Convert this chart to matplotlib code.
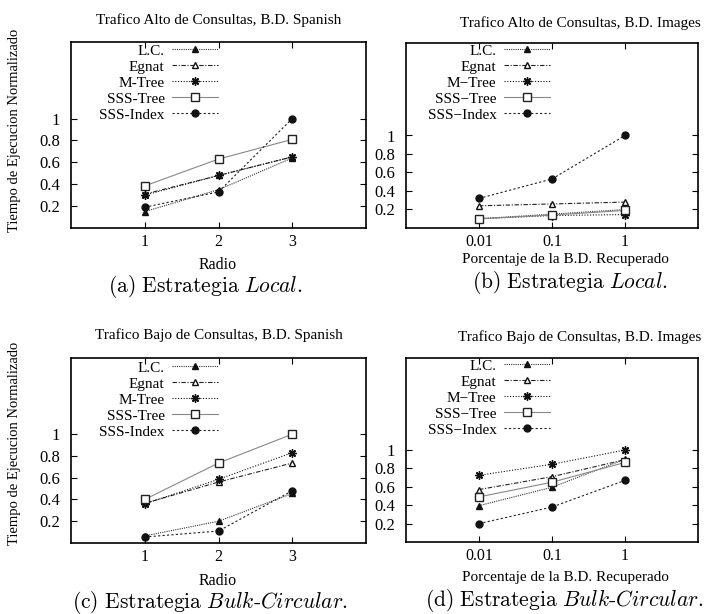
import matplotlib
matplotlib.use("Agg")
import matplotlib.pyplot as plt

plt.rcParams['font.family'] = ['Liberation Serif', 'DejaVu Serif']
plt.rcParams['mathtext.fontset'] = 'cm'

# eje x
radio = [1, 2, 3]
porcentaje = [0.01, 0.1, 1]

# (a) trafico alto, Spanish
a_lc = [0.15, 0.35, 0.64]
a_egnat = [0.31, 0.48, 0.65]
a_mtree = [0.30, 0.48, 0.65]
a_ssstree = [0.385, 0.63, 0.81]
a_sssindex = [0.19, 0.33, 1.0]

# (b) trafico alto, Images
b_lc = [0.10, 0.15, 0.20]
b_egnat = [0.24, 0.26, 0.28]
b_mtree = [0.10, 0.135, 0.145]
b_ssstree = [0.10, 0.14, 0.19]
b_sssindex = [0.32, 0.53, 1.0]

# (c) trafico bajo, Spanish
c_lc = [0.065, 0.20, 0.455]
c_egnat = [0.365, 0.56, 0.735]
c_mtree = [0.36, 0.585, 0.83]
c_ssstree = [0.40, 0.735, 1.0]
c_sssindex = [0.055, 0.11, 0.48]

# (d) trafico bajo, Images
d_lc = [0.395, 0.595, 0.90]
d_egnat = [0.57, 0.71, 0.895]
d_mtree = [0.725, 0.845, 1.0]
d_ssstree = [0.49, 0.65, 0.865]
d_sssindex = [0.20, 0.38, 0.67]

nombres_spanish = ['L.C.', 'Egnat', 'M-Tree', 'SSS-Tree', 'SSS-Index']
nombres_images = ['L.C.', 'Egnat', 'M\u2212Tree', 'SSS\u2212Tree', 'SSS\u2212Index']
yticks = [0.2, 0.4, 0.6, 0.8, 1]
ytick_labels = ['0.2', '0.4', '0.6', '0.8', '1']

estilos = [
    dict(ls=(0, (1, 1)), color='#333333', marker='^', ms=4, mfc='#111111', mec='#111111'),
    dict(ls=(0, (4, 1.5, 1, 1.5)), color='#222222', marker='^', ms=5, mfc='white', mec='#111111'),
    dict(ls=(0, (1, 1.5)), color='#111111', marker=(8, 2, 0), ms=6, mec='#111111'),
    dict(ls='-', color='#888888', marker='s', ms=5.5, mfc='white', mec='#222222'),
    dict(ls=(0, (2, 2)), color='#222222', marker='o', ms=5, mfc='#111111', mec='#111111'),
]

W, H = 705, 614
fig = plt.figure(figsize=(W / 100, H / 100), dpi=100)


def rect(l, t, r, b):
    return [l / W, 1 - b / H, (r - l) / W, (b - t) / H]


def fx(x):
    return x / W


def fy(y):
    return 1 - y / H


def panel(box, x, series, nombres, ylim, log, ley_xy):
    ax = fig.add_axes(rect(*box))
    for vals, nom, st in zip(series, nombres, estilos):
        ax.plot(x, vals, lw=0.8, label=nom, **st)
    if log:
        ax.set_xscale('log')
        ax.set_xlim(0.001, 10)
        ax.set_xticks(porcentaje)
        ax.set_xticklabels(['0.01', '0.1', '1'])
        ax.minorticks_off()
    else:
        ax.set_xlim(0, 4)
        ax.set_xticks(radio)
        ax.set_xticklabels(['1', '2', '3'])
    ax.set_ylim(0, ylim)
    ax.set_yticks(yticks)
    ax.set_yticklabels(ytick_labels)
    ax.tick_params(direction='in', top=True, right=True, length=4, width=0.8)
    ax.tick_params(axis='x', labelsize=11.5, pad=4)
    ax.tick_params(axis='y', labelsize=12, pad=8)
    for s in ax.spines.values():
        s.set_linewidth(1.2)
    ax.legend(loc='upper right', bbox_to_anchor=(fx(ley_xy[0]), fy(ley_xy[1])),
              bbox_transform=fig.transFigure, frameon=False, markerfirst=False,
              fontsize=11, handlelength=3.0, handletextpad=0.5,
              labelspacing=0.15, borderpad=0, borderaxespad=0)
    return ax


panel((71, 42, 366, 228), radio, [a_lc, a_egnat, a_mtree, a_ssstree, a_sssindex],
      nombres_spanish, 1.7, False, (218, 44))
panel((406, 43, 698, 228), porcentaje, [b_lc, b_egnat, b_mtree, b_ssstree, b_sssindex],
      nombres_images, 2.0, True, (550, 44))
panel((71, 358, 366, 543), radio, [c_lc, c_egnat, c_mtree, c_ssstree, c_sssindex],
      nombres_spanish, 1.7, False, (218, 361))
panel((406, 358, 698, 542), porcentaje, [d_lc, d_egnat, d_mtree, d_ssstree, d_sssindex],
      nombres_images, 2.0, True, (550, 359))

# titulos
fig.text(fx(219), fy(20), 'Trafico Alto de Consultas, B.D. Spanish', ha='center', va='center', fontsize=11)
fig.text(fx(580), fy(23), 'Trafico Alto de Consultas, B.D. Images', ha='center', va='center', fontsize=11)
fig.text(fx(219), fy(335), 'Trafico Bajo de Consultas, B.D. Spanish', ha='center', va='center', fontsize=11)
fig.text(fx(580), fy(337), 'Trafico Bajo de Consultas, B.D. Images', ha='center', va='center', fontsize=11)

# etiquetas de ejes
fig.text(fx(218), fy(265), 'Radio', ha='center', va='center', fontsize=11.5)
fig.text(fx(565), fy(259), 'Porcentaje de la B.D. Recuperado', ha='center', va='center', fontsize=11)
fig.text(fx(218), fy(581), 'Radio', ha='center', va='center', fontsize=11.5)
fig.text(fx(565), fy(577), 'Porcentaje de la B.D. Recuperado', ha='center', va='center', fontsize=11)
fig.text(fx(15), fy(130), 'Tiempo de Ejecucion Normalizado', rotation=90, ha='center', va='center', fontsize=10.5)
fig.text(fx(15), fy(443), 'Tiempo de Ejecucion Normalizado', rotation=90, ha='center', va='center', fontsize=10.5)

# subtitulos
fig.text(fx(205), fy(287), r'$\mathrm{(a)\ Estrategia\ }\mathit{Local}\mathrm{.}$', ha='center', va='center', fontsize=15.5)
fig.text(fx(570), fy(282), r'$\mathrm{(b)\ Estrategia\ }\mathit{Local}\mathrm{.}$', ha='center', va='center', fontsize=15.5)
fig.text(fx(348), fy(602), r'$\mathrm{(c)\ Estrategia\ }\mathit{Bulk}\mathrm{\text{-}}\mathit{Circular}\mathrm{.}$', ha='right', va='center', fontsize=15.5)
fig.text(fx(703), fy(600), r'$\mathrm{(d)\ Estrategia\ }\mathit{Bulk}\mathrm{\text{-}}\mathit{Circular}\mathrm{.}$', ha='right', va='center', fontsize=15.5)

fig.savefig('out.png', dpi=100)
